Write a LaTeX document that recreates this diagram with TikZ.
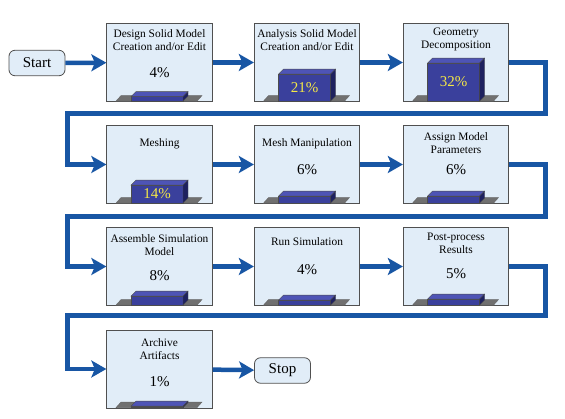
\documentclass[tikz,border=0pt]{standalone}
\usepackage{fontspec}
\setmainfont{Liberation Serif}
\usetikzlibrary{arrows.meta,calc}

\definecolor{flowblue}{RGB}{24,86,164}
\definecolor{boxfill}{RGB}{225,237,248}
\definecolor{boxline}{RGB}{80,80,80}
\definecolor{barfront}{RGB}{58,64,156}
\definecolor{bartop}{RGB}{78,84,182}
\definecolor{barside}{RGB}{30,33,95}
\definecolor{basegray}{RGB}{112,112,112}
\definecolor{pctyellow}{RGB}{245,232,70}

% 3D bar with grey floor at the bottom of a step box
% #1 = box name, #2 = bar height (pt)
\newcommand{\pctbar}[2]{%
  \filldraw[fill=basegray,draw=black!60,line width=0.4pt]
    ([shift={(-43.5pt,0.8pt)}]#1.south) -- ++(81pt,0pt) -- ++(5pt,5.5pt) -- ++(-81pt,0pt) -- cycle;
  \filldraw[fill=barfront,draw=black!70,line width=0.4pt]
    ([shift={(-28.5pt,0.8pt)}]#1.south) rectangle ++(52pt,#2pt);
  \filldraw[fill=bartop,draw=black!70,line width=0.4pt]
    ([shift={(-28.5pt,0.8pt+#2pt)}]#1.south) -- ++(52pt,0pt) -- ++(5pt,5pt) -- ++(-52pt,0pt) -- cycle;
  \filldraw[fill=barside,draw=black!70,line width=0.4pt]
    ([shift={(23.5pt,0.8pt)}]#1.south) -- ++(0pt,#2pt) -- ++(5pt,5pt) -- ++(0pt,-#2pt) -- cycle;
  \coordinate (#1-bar) at ([shift={(-2.5pt,0.8pt+0.5*#2pt)}]#1.south);
}

\begin{document}
\begin{tikzpicture}[x=1pt,y=-1pt,
    stepbox/.style={draw=boxline,fill=boxfill,line width=0.8pt,
      minimum width=105.5pt,minimum height=78pt,inner sep=0pt},
    endbox/.style={draw=boxline,fill=boxfill,line width=0.8pt,rounded corners=6pt,
      minimum width=56pt,minimum height=25.5pt,inner sep=0pt,
      font=\fontsize{15}{17}\selectfont},
    title/.style={align=center,inner sep=0pt,font=\fontsize{11.4}{13}\selectfont},
    pct/.style={inner sep=0pt,font=\fontsize{15}{17}\selectfont},
    pctin/.style={pct,text=pctyellow},
    flow/.style={draw=flowblue,line width=4.5pt,
      -{Stealth[length=15pt,width=17pt,inset=3.5pt]}}]
  \useasboundingbox (0,0) rectangle (565,419);

  % start / stop
  \node[endbox] (start) at (37,63) {Start};
  \node[endbox] (stop) at (282.5,370.5) {Stop};

  % row 1
  \node[stepbox] (design) at (159.5,62.5) {};
  \node[stepbox] (analysis) at (307,62.5) {};
  \node[stepbox] (geom) at (456,62.5) {};
  % row 2
  \node[stepbox] (mesh) at (159.5,164.5) {};
  \node[stepbox] (meshman) at (307,164.5) {};
  \node[stepbox] (assign) at (456,164.5) {};
  % row 3
  \node[stepbox] (assemble) at (159.5,266.5) {};
  \node[stepbox] (run) at (307,266.5) {};
  \node[stepbox] (post) at (456,266.5) {};
  % row 4
  \node[stepbox] (archive) at (159.5,369) {};

  % bars
  \pctbar{design}{4.5}
  \pctbar{analysis}{27}
  \pctbar{geom}{38}
  \pctbar{mesh}{18}
  \pctbar{meshman}{7}
  \pctbar{assign}{7}
  \pctbar{assemble}{9}
  \pctbar{run}{5}
  \pctbar{post}{6}
  \pctbar{archive}{1.5}

  % titles and shares
  \node[title] (design-t) at ([yshift=-17pt]design.north) {Design Solid Model\\Creation and/or Edit};
  \node[pct] (design-p) at ([yshift=-50pt]design.north) {4\%};
  \node[title] (analysis-t) at ([yshift=-17.5pt]analysis.north) {Analysis Solid Model\\Creation and/or Edit};
  \node[pctin] (analysis-p) at (analysis-bar) {21\%};
  \node[title] (geom-t) at ([yshift=-16.5pt]geom.north) {Geometry\\Decomposition};
  \node[pctin] (geom-p) at (geom-bar) {32\%};

  \node[title] (mesh-t) at ([yshift=-19pt]mesh.north) {Meshing};
  \node[pctin] (mesh-p) at (mesh-bar) {14\%};
  \node[title] (meshman-t) at ([yshift=-19pt]meshman.north) {Mesh Manipulation};
  \node[pct] (meshman-p) at ([yshift=-45pt]meshman.north) {6\%};
  \node[title] (assign-t) at ([yshift=-18.5pt]assign.north) {Assign Model\\Parameters};
  \node[pct] (assign-p) at ([yshift=-45pt]assign.north) {6\%};

  \node[title] (assemble-t) at ([yshift=-18.5pt]assemble.north) {Assemble Simulation\\Model};
  \node[pct] (assemble-p) at ([yshift=-49pt]assemble.north) {8\%};
  \node[title] (run-t) at ([yshift=-15pt]run.north) {Run Simulation};
  \node[pct] (run-p) at ([yshift=-43pt]run.north) {4\%};
  \node[title] (post-t) at ([yshift=-16.5pt]post.north) {Post-process\\Results};
  \node[pct] (post-p) at ([yshift=-47pt]post.north) {5\%};

  \node[title] (archive-t) at ([yshift=-20pt]archive.north) {Archive\\Artifacts};
  \node[pct] (archive-p) at ([yshift=-52pt]archive.north) {1\%};

  % turn points of the return lines
  \coordinate (r1) at (545.5,113.5);
  \coordinate (l1) at (67.5,113.5);
  \coordinate (r2) at (545.5,216.5);
  \coordinate (l2) at (67.5,216.5);
  \coordinate (r3) at (545.5,315.5);
  \coordinate (l3) at (67.5,315.5);

  % flow
  \draw[flow] (start) -- (design);
  \draw[flow] (design) -- (analysis);
  \draw[flow] (analysis) -- (geom);
  \draw[flow] (geom.east) -| (r1) -- (l1) |- (mesh.west);
  \draw[flow] (mesh) -- (meshman);
  \draw[flow] (meshman) -- (assign);
  \draw[flow] (assign.east) -| (r2) -- (l2) |- (assemble.west);
  \draw[flow] (assemble) -- (run);
  \draw[flow] (run) -- (post);
  \draw[flow] (post.east) -| (r3) -- (l3) |- (archive.west);
  \draw[flow] (archive) -- (stop);
\end{tikzpicture}
\end{document}
